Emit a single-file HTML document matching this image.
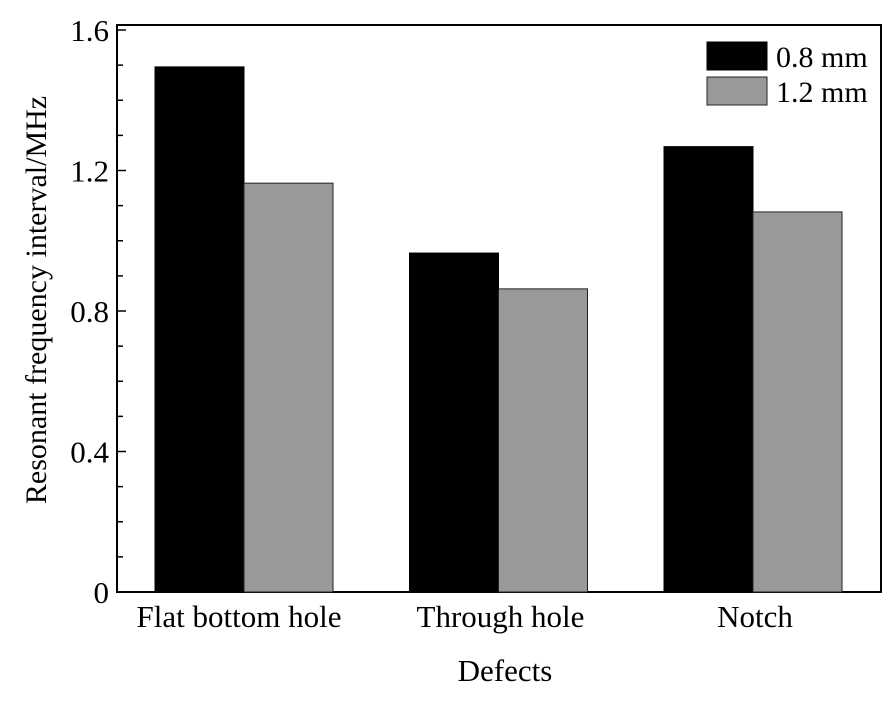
<!DOCTYPE html>
<html><head><meta charset="utf-8"><style>
body{margin:0;background:#fff;}
svg{display:block;font-family:"Liberation Serif",serif;}
</style></head><body>
<svg id="chart" width="892" height="708"></svg>
<script>
const categories=["Flat bottom hole","Through hole","Notch"];
const series08=[1.495,0.965,1.268];
const series12=[1.164,0.863,1.082];
const yTicks=[0,0.4,0.8,1.2,1.6];
const yTickLabels=["0","0.4","0.8","1.2","1.6"];
const NS="http://www.w3.org/2000/svg";
const svg=document.getElementById('chart');
const L=117,R=881,T=25,B=592;
const y=v=>B-v*351.25;
const gx=i=>244+i*254.5;
function mk(t,a,p){const e=document.createElementNS(NS,t);for(const k in a)e.setAttribute(k,a[k]);(p||svg).appendChild(e);return e;}
const frame=mk('rect',{x:L,y:T,width:R-L,height:B-T,fill:'none',stroke:'#000','stroke-width':2});


categories.forEach((c,i)=>{
  const b1=mk('rect',{x:gx(i)-89,y:y(series08[i]),width:89,height:B-y(series08[i]),fill:'#000',stroke:'#000'});
  
  
  const b2=mk('rect',{x:gx(i),y:y(series12[i]),width:89,height:B-y(series12[i]),fill:'#999',stroke:'#222'});
  
  
  const t=mk('text',{x:gx(i)+(i===0?-5:2),y:627,'text-anchor':'middle','font-size':31});
  t.textContent=c;
  
  
});
for(let v=0;v<=1.6001;v+=0.1){
  const major=Math.abs(v*10/4-Math.round(v*10/4))<1e-6;
  mk('line',{x1:L,x2:L+(major?9:6),y1:y(v),y2:y(v),stroke:'#000','stroke-width':1.5});
}
yTicks.forEach((v,i)=>{
  const t=mk('text',{x:L-8,y:y(v)+11,'text-anchor':'end','font-size':31});
  t.textContent=yTickLabels[i];
  
  
});
const yt=mk('text',{x:0,y:0,transform:'translate(46,300) rotate(-90)','text-anchor':'middle','font-size':30});
yt.textContent='Resonant frequency interval/MHz';


const xt=mk('text',{x:505,y:681,'text-anchor':'middle','font-size':31});
xt.textContent='Defects';


const lg=mk('g',{});


mk('rect',{x:707,y:42,width:60,height:28,fill:'#000',stroke:'#000'},lg);
mk('rect',{x:707,y:77,width:60,height:28,fill:'#999',stroke:'#222'},lg);
const l1=mk('text',{x:776,y:67,'font-size':30},lg);l1.textContent='0.8 mm';


const l2=mk('text',{x:776,y:102,'font-size':30},lg);l2.textContent='1.2 mm';


</script>
</body></html>
